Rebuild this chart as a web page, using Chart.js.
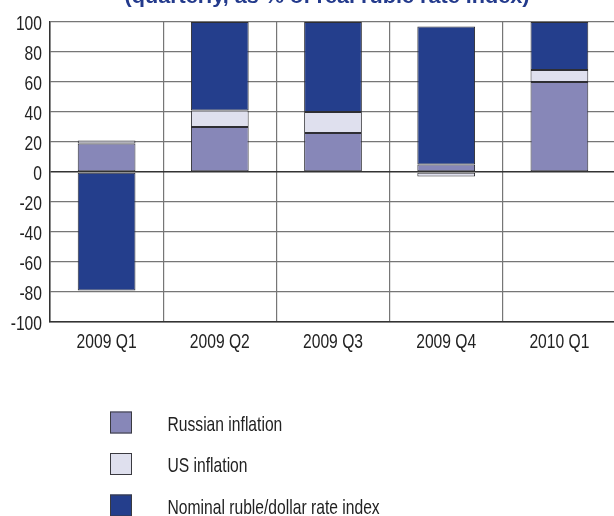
<!DOCTYPE html>
<html>
<head>
<meta charset="utf-8">
<script src="https://cdn.jsdelivr.net/npm/chart.js@4/dist/chart.umd.min.js"></script>
<style>
  html, body { margin: 0; padding: 0; background: #ffffff; overflow: hidden; }
  #wrap { position: relative; width: 616px; height: 516px; }
  canvas { display: block; }
</style>
</head>
<body>
<div id="wrap"><canvas id="c" width="616" height="516"></canvas></div>
<script>
// ---- data ----
const categories = ['2009 Q1', '2009 Q2', '2009 Q3', '2009 Q4', '2010 Q1'];
const russianInflation = [19, 30, 26, 5, 60];
const usInflation = [2, 11, 14, -3, 8];
const nominalRubleDollar = [-79, 59, 60, 92, 32];
const seriesLabels = ['Russian inflation', 'US inflation', 'Nominal ruble/dollar rate index'];
const titleText = '(quarterly, as % of real ruble rate index)';

const FONT = "'Liberation Sans', Arial, sans-serif";
const SX = 0.745; // horizontal condensing of the text face
const colors = ['#8787b8', '#dfe0ee', '#243e8c'];
const edge = '#2e2e33';

function drawCondensed(ctx, text, x, y, align) {
  ctx.save();
  ctx.translate(x, y);
  ctx.scale(SX, 1);
  ctx.textAlign = align;
  ctx.textBaseline = 'alphabetic';
  ctx.fillText(text, 0, 0);
  ctx.restore();
}

const titlePlugin = {
  id: 'cutTitle',
  afterDraw(chart) {
    const ctx = chart.ctx;
    ctx.save();
    ctx.font = 'bold 20px ' + FONT;
    const w = ctx.measureText(titleText).width;
    const target = 405;
    ctx.translate(327, 3);
    ctx.scale(target / w, 1);
    ctx.fillStyle = '#233a8c';
    ctx.textAlign = 'center';
    ctx.textBaseline = 'alphabetic';
    ctx.fillText(titleText, 0, 0);
    ctx.restore();
  }
};

const tickLabelPlugin = {
  id: 'condensedTicks',
  afterDraw(chart) {
    const ctx = chart.ctx;
    const xs = chart.scales.x, ys = chart.scales.y;
    ctx.save();
    ctx.font = '21px ' + FONT;
    ctx.fillStyle = '#222222';
    ys.ticks.forEach((t, i) => {
      drawCondensed(ctx, String(t.value), ys.right - 8, ys.getPixelForTick(i) + 8, 'right');
    });
    xs.ticks.forEach((t, i) => {
      drawCondensed(ctx, xs.getLabelForValue(t.value), xs.getPixelForTick(i), xs.top + 26, 'center');
    });
    ctx.restore();
  }
};

const legendPlugin = {
  id: 'vertLegend',
  afterDraw(chart) {
    const ctx = chart.ctx;
    ctx.save();
    chart.data.datasets.forEach((ds, i) => {
      const cy = 422.5 + i * 41.5;
      ctx.fillStyle = ds.backgroundColor;
      ctx.fillRect(110, cy - 11, 22, 22);
      ctx.strokeStyle = '#3a3a40';
      ctx.lineWidth = 1;
      ctx.strokeRect(110.5, cy - 10.5, 21, 21);
      ctx.fillStyle = '#222222';
      ctx.font = '21px ' + FONT;
      drawCondensed(ctx, ds.label, 167.5, cy + 8, 'left');
    });
    ctx.restore();
  }
};

new Chart(document.getElementById('c'), {
  type: 'bar',
  data: {
    labels: categories,
    datasets: [
      { label: seriesLabels[0], data: russianInflation, backgroundColor: colors[0] },
      { label: seriesLabels[1], data: usInflation, backgroundColor: colors[1] },
      { label: seriesLabels[2], data: nominalRubleDollar, backgroundColor: colors[2] }
    ]
  },
  options: {
    responsive: false,
    animation: false,
    devicePixelRatio: 1,
    layout: { padding: { top: 22, right: 0, bottom: 154, left: 0 } },
    datasets: {
      bar: {
        borderColor: edge,
        borderWidth: 1,
        borderSkipped: false,
        categoryPercentage: 1,
        barPercentage: 0.51
      }
    },
    plugins: {
      legend: { display: false },
      title: { display: false },
      tooltip: { enabled: false }
    },
    scales: {
      x: {
        stacked: true,
        afterFit(s) { s.height = 40; },
        grid: { offset: true, color: '#767676', lineWidth: 1.2, drawTicks: false },
        border: { color: '#333333', width: 1.5 },
        ticks: { display: false }
      },
      y: {
        stacked: true,
        min: -100,
        max: 100,
        afterFit(s) { s.width = 50; },
        ticks: { stepSize: 20, display: false },
        grid: {
          drawTicks: false,
          color: (c) => (c.tick && c.tick.value === 0 ? '#333333' : '#767676'),
          lineWidth: (c) => (c.tick && c.tick.value === 0 ? 1.5 : 1.2)
        },
        border: { color: '#333333', width: 1.5 }
      }
    }
  },
  plugins: [titlePlugin, tickLabelPlugin, legendPlugin]
});
</script>
</body>
</html>
